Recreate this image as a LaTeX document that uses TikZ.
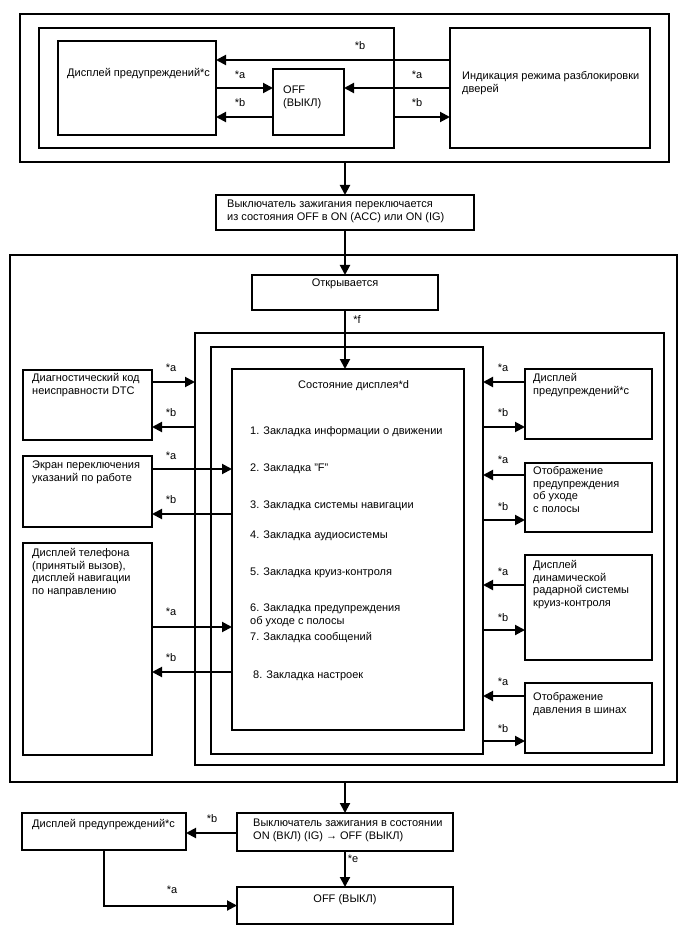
\documentclass[tikz,border=0pt]{standalone}
\usepackage{fontspec}
\setmainfont{Liberation Sans}
\usetikzlibrary{arrows.meta}
\begin{document}
\begin{tikzpicture}[x=1pt,y=-1pt,
  box/.style={draw, line width=1.3pt, inner sep=0pt, outer sep=0pt},
  txt/.style={font=\fontsize{11}{12.5}\selectfont, align=left, inner sep=0pt, anchor=north west},
  ctxt/.style={font=\fontsize{11}{12.5}\selectfont, inner sep=0pt, anchor=base},
  lbl/.style={font=\fontsize{11}{12.5}\selectfont, inner sep=0pt},
  arr/.style={line width=2pt, -{Triangle[length=10pt,width=10pt]}}]
\fill[white] (0,0) rectangle (688,949);
\useasboundingbox (0,0) rectangle (688,949);

% ---------- top block ----------
\node[box, minimum width=649pt, minimum height=148pt] (outer1) at (344.5,88) {};
\node[box, minimum width=355pt, minimum height=120pt] (inner1) at (216.5,88) {};
\node[box, minimum width=158pt, minimum height=94pt] (disp1) at (137,88) {};
\node[box, minimum width=71pt, minimum height=66pt] (off1) at (308.5,102) {};
\node[box, minimum width=200pt, minimum height=120pt] (unlock) at (550,88) {};
\node[txt] (tdisp1) at (67,67.75) {\strut Дисплей предупреждений*c};
\node[txt] (toff1) at (283,84.75) {\strut OFF\\(ВЫКЛ)};
\node[txt] (tunlock) at (462,70.75) {\strut Индикация режима разблокировки\\дверей};

\draw[arr] (unlock.west |- 0,60) -- (disp1.east |- 0,60);
\node[lbl] (l1) at (360,46) {*b};
\draw[arr] (disp1.east |- 0,88) -- (off1.west |- 0,88);
\node[lbl] (l2) at (240,75) {*a};
\draw[arr] (unlock.west |- 0,88) -- (off1.east |- 0,88);
\node[lbl] (l3) at (417,75) {*a};
\draw[arr] (off1.west |- 0,117) -- (disp1.east |- 0,117);
\node[lbl] (l4) at (240,103) {*b};
\draw[arr] (inner1.east |- 0,117) -- (unlock.west |- 0,117);
\node[lbl] (l5) at (417,103) {*b};

% ---------- ignition switch ----------
\node[box, minimum width=258pt, minimum height=35pt] (sw1) at (345,212.5) {};
\node[txt] (tsw1) at (227,198.75) {\strut Выключатель зажигания переключается\\из состояния OFF в ON (ACC) или ON (IG)};
\draw[arr] (outer1.south -| sw1.north) -- (sw1.north);

% ---------- middle block ----------
\node[box, minimum width=667pt, minimum height=527pt] (big) at (343.5,518.5) {};
\node[box, minimum width=186pt, minimum height=35pt] (open) at (345,292.5) {};
\node[ctxt] (topen) at (345,287) {Открывается};
\draw[arr] (sw1.south) -- (open.north);

\node[box, minimum width=469pt, minimum height=432pt] (boxA) at (429.5,549) {};
\node[box, minimum width=272pt, minimum height=407pt] (boxB) at (347,550.5) {};
\node[box, minimum width=232pt, minimum height=361pt] (boxC) at (348,549.5) {};
\draw[arr] (open.south) -- (open.south |- boxC.north);
\node[lbl] (lf) at (357,320) {*f};

\node[txt] (tstate) at (298,379.75) {\strut Состояние дисплея*d};
\node[txt] (i1) at (250,425.75) {\strut 1. Закладка информации о движении};
\node[txt] (i2) at (250,462.75) {\strut 2. Закладка "F"};
\node[txt] (i3) at (250,499.75) {\strut 3. Закладка системы навигации};
\node[txt] (i4) at (250,529.75) {\strut 4. Закладка аудиосистемы};
\node[txt] (i5) at (250,566.75) {\strut 5. Закладка круиз-контроля};
\node[txt] (i6) at (250,602.75) {\strut 6. Закладка предупреждения\\об уходе с полосы};
\node[txt] (i7) at (250,631.75) {\strut 7. Закладка сообщений};
\node[txt] (i8) at (253,669.75) {\strut 8. Закладка настроек};

% left boxes
\node[box, minimum width=129pt, minimum height=70pt] (dtc) at (87.5,405) {};
\node[txt] (tdtc) at (32,372.75) {\strut Диагностический код\\неисправности DTC};
\node[box, minimum width=129pt, minimum height=71pt] (ekr) at (87.5,491.5) {};
\node[txt] (tekr) at (32,459.75) {\strut Экран переключения\\указаний по работе};
\node[box, minimum width=129pt, minimum height=212pt] (phone) at (87.5,649) {};
\node[txt] (tphone) at (32,547.75) {\strut Дисплей телефона\\(принятый вызов),\\дисплей навигации\\по направлению};

\draw[arr] (dtc.east |- 0,382) -- (boxA.west |- 0,382);
\node[lbl] (l6) at (171,368) {*a};
\draw[arr] (boxA.west |- 0,427) -- (dtc.east |- 0,427);
\node[lbl] (l7) at (171,413) {*b};
\draw[arr] (ekr.east |- 0,469) -- (boxC.west |- 0,469);
\node[lbl] (l8) at (171,456) {*a};
\draw[arr] (boxC.west |- 0,514) -- (ekr.east |- 0,514);
\node[lbl] (l9) at (171,500) {*b};
\draw[arr] (phone.east |- 0,627) -- (boxC.west |- 0,627);
\node[lbl] (l10) at (171,612) {*a};
\draw[arr] (boxC.west |- 0,672) -- (phone.east |- 0,672);
\node[lbl] (l11) at (171,658) {*b};

% right boxes
\node[box, minimum width=127pt, minimum height=70pt] (warn) at (588.5,404) {};
\node[txt] (twarn) at (533,372.75) {\strut Дисплей\\предупреждений*c};
\node[box, minimum width=127pt, minimum height=69pt] (lane) at (588.5,497.5) {};
\node[txt] (tlane) at (533,465.75) {\strut Отображение\\предупреждения\\об уходе\\с полосы};
\node[box, minimum width=127pt, minimum height=105pt] (radar) at (588.5,607.5) {};
\node[txt] (tradar) at (533,559.75) {\strut Дисплей\\динамической\\радарной системы\\круиз-контроля};
\node[box, minimum width=127pt, minimum height=70pt] (tire) at (588.5,718) {};
\node[txt] (ttire) at (533,691.75) {\strut Отображение\\давления в шинах};

\draw[arr] (warn.west |- 0,382) -- (boxB.east |- 0,382);
\node[lbl] (l12) at (503,368) {*a};
\draw[arr] (boxB.east |- 0,427) -- (warn.west |- 0,427);
\node[lbl] (l13) at (503,413) {*b};
\draw[arr] (lane.west |- 0,475) -- (boxB.east |- 0,475);
\node[lbl] (l14) at (503,460) {*a};
\draw[arr] (boxB.east |- 0,520) -- (lane.west |- 0,520);
\node[lbl] (l15) at (503,507) {*b};
\draw[arr] (radar.west |- 0,585) -- (boxB.east |- 0,585);
\node[lbl] (l16) at (503,572) {*a};
\draw[arr] (boxB.east |- 0,630) -- (radar.west |- 0,630);
\node[lbl] (l17) at (503,618) {*b};
\draw[arr] (tire.west |- 0,696) -- (boxB.east |- 0,696);
\node[lbl] (l18) at (503,682) {*a};
\draw[arr] (boxB.east |- 0,741) -- (tire.west |- 0,741);
\node[lbl] (l19) at (503,729) {*b};

% ---------- bottom ----------
\node[box, minimum width=216pt, minimum height=38pt] (sw2) at (345,832) {};
\node[txt] (tsw2) at (253,817.75) {\strut Выключатель зажигания в состоянии\\ON (ВКЛ) (IG) → OFF (ВЫКЛ)};
\draw[arr] (big.south -| sw2.north) -- (sw2.north);
\node[box, minimum width=164pt, minimum height=37pt] (warn2) at (104,831.5) {};
\node[txt] (twarn2) at (32,818.75) {\strut Дисплей предупреждений*c};
\node[box, minimum width=216pt, minimum height=37pt] (off2) at (345,905.5) {};
\node[ctxt] (toff2) at (345,902) {OFF (ВЫКЛ)};
\draw[arr] (sw2.west |- 0,833) -- (warn2.east |- 0,833);
\node[lbl] (l20) at (212,819) {*b};
\draw[arr] (sw2.south) -- (off2.north);
\node[lbl] (l21) at (353,859) {*e};
\draw[arr] (warn2.south) |- (off2.west);
\node[lbl] (l22) at (172,890) {*a};
\end{tikzpicture}
\end{document}
